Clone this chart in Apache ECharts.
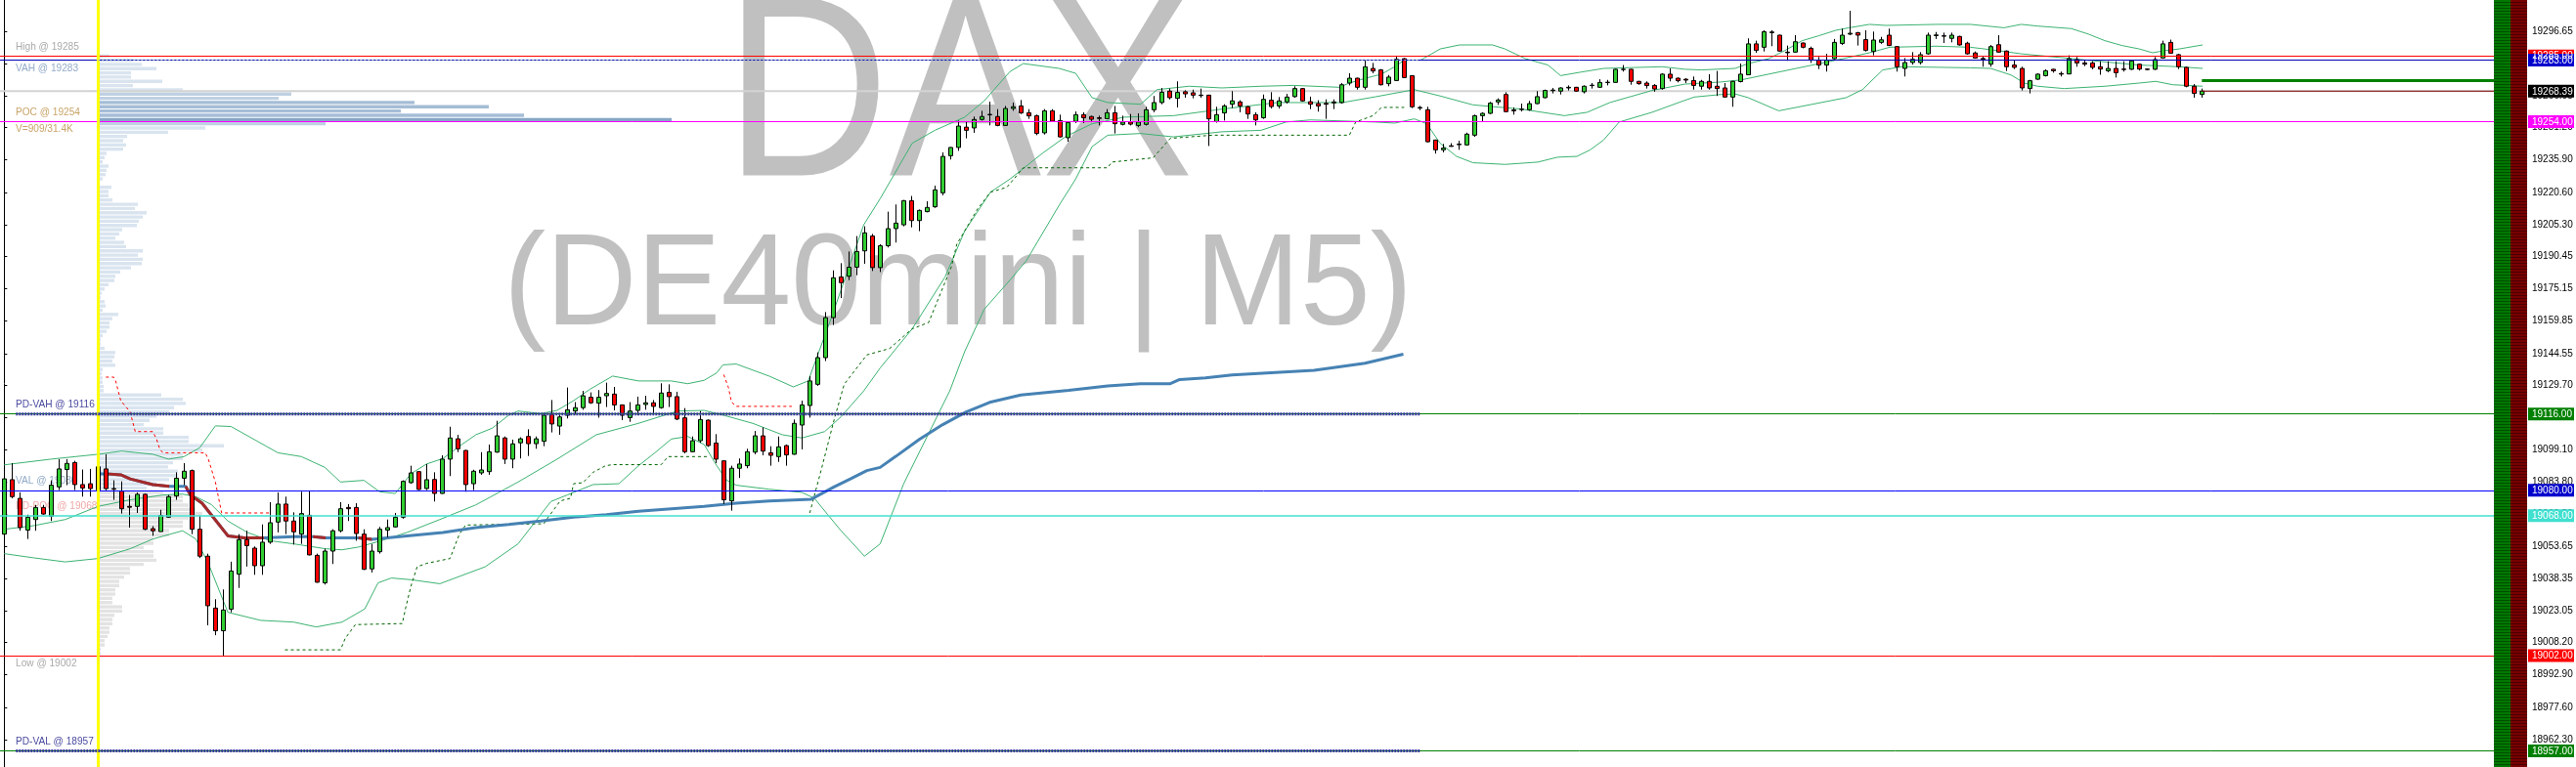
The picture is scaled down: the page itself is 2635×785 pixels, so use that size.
<!DOCTYPE html>
<html><head><meta charset="utf-8">
<script src="https://cdn.jsdelivr.net/npm/echarts@6/dist/echarts.min.js"></script>
<style>html,body{margin:0;padding:0;background:#fff;overflow:hidden}#c{width:2635px;height:785px}</style>
</head><body><div id="c"></div>
<script>
// ---------------- DATA ----------------
// candles: [open, high, low, close], one per M5 bar
const candles = [
[19059.3,19087.0,19057.8,19085.4],[19085.0,19092.8,19076.2,19077.0],[19076.2,19079.0,19060.9,19062.4],[19061.2,19068.5,19057.0,19067.3],
[19066.2,19073.1,19060.9,19071.9],[19071.9,19073.1,19068.5,19068.8],[19067.8,19084.7,19065.5,19082.4],[19081.6,19094.7,19080.1,19090.1],
[19089.8,19094.7,19082.4,19092.7],[19093.1,19093.9,19080.1,19082.7],[19082.7,19089.8,19077.0,19081.1],[19083.1,19090.1,19077.0,19080.8],
[19080.1,19097.3,19077.8,19091.1],[19090.1,19097.0,19080.0,19080.8],[19080.8,19084.7,19075.5,19080.5],[19079.6,19084.2,19069.0,19071.3],
[19072.4,19077.8,19062.4,19072.0],[19072.4,19079.0,19069.3,19078.1],[19078.1,19078.5,19061.2,19061.6],[19061.9,19063.1,19058.5,19060.9],
[19060.5,19070.8,19060.5,19068.1],[19067.3,19077.8,19067.0,19077.0],[19077.3,19088.5,19075.5,19085.7],[19085.7,19092.8,19082.4,19089.0],
[19089.3,19089.8,19059.3,19061.6],[19061.6,19068.0,19048.0,19048.9],[19048.9,19050.1,19016.3,19025.5],[19024.4,19028.6,19011.6,19013.7],
[19013.7,19033.2,19002.0,19023.5],[19023.9,19046.3,19022.4,19041.9],[19040.4,19059.3,19033.9,19056.7],[19056.7,19060.9,19044.0,19053.9],
[19052.7,19053.5,19040.1,19044.4],[19044.4,19063.9,19040.1,19055.5],[19055.5,19074.4,19054.7,19064.7],[19065.0,19079.0,19060.1,19073.5],
[19073.5,19077.0,19059.3,19065.5],[19065.5,19069.6,19054.4,19060.4],[19059.3,19079.3,19054.7,19069.0],[19068.2,19079.6,19049.3,19049.5],
[19049.3,19050.1,19036.4,19036.6],[19036.3,19052.4,19035.5,19051.3],[19051.3,19061.6,19045.2,19060.9],[19060.9,19074.4,19060.1,19071.3],
[19071.9,19073.5,19065.5,19071.3],[19071.9,19073.9,19056.2,19059.6],[19059.3,19061.6,19042.4,19042.7],[19042.9,19054.7,19041.2,19051.3],
[19051.0,19062.7,19050.1,19061.6],[19061.2,19066.2,19057.8,19062.4],[19062.7,19069.3,19062.4,19067.3],[19067.3,19084.7,19066.6,19084.2],
[19083.6,19091.6,19083.1,19088.2],[19088.8,19089.0,19080.2,19080.4],[19080.8,19092.4,19080.1,19085.0],[19085.1,19088.5,19074.7,19078.5],
[19078.5,19096.5,19078.3,19094.7],[19094.7,19110.0,19086.7,19104.7],[19104.3,19106.2,19098.0,19099.6],[19098.8,19099.0,19079.3,19082.7],
[19083.1,19089.7,19080.1,19089.0],[19088.2,19098.0,19087.3,19089.6],[19088.8,19101.6,19087.3,19098.2],[19098.0,19112.8,19097.7,19105.7],
[19104.7,19105.4,19092.4,19094.7],[19094.7,19103.9,19090.4,19101.9],[19102.4,19105.0,19095.0,19104.3],[19105.4,19108.8,19096.2,19102.0],
[19102.0,19105.4,19099.6,19104.3],[19103.1,19116.2,19100.8,19115.4],[19115.9,19122.6,19107.3,19111.3],[19110.3,19116.2,19106.2,19114.6],
[19115.4,19128.5,19113.9,19118.0],[19117.4,19121.6,19115.7,19119.0],[19119.0,19126.9,19118.0,19124.6],[19123.9,19126.2,19120.8,19121.3],
[19121.1,19127.3,19114.3,19123.9],[19124.6,19130.8,19119.3,19125.7],[19125.4,19128.8,19117.7,19120.3],[19120.3,19120.5,19113.1,19115.4],
[19114.3,19121.6,19112.3,19117.4],[19117.7,19124.2,19115.4,19120.3],[19120.5,19124.6,19118.0,19121.3],[19121.3,19122.6,19115.4,19119.6],
[19119.0,19130.5,19118.5,19125.9],[19126.2,19130.0,19119.3,19124.2],[19124.2,19126.5,19113.1,19113.6],[19114.2,19118.8,19097.4,19098.2],
[19098.2,19105.4,19098.0,19103.4],[19103.4,19117.4,19102.4,19113.4],[19113.1,19113.4,19100.5,19101.1],[19102.3,19106.5,19092.8,19094.7],
[19093.9,19094.0,19073.5,19075.5],[19075.0,19091.6,19070.4,19090.4],[19090.4,19095.0,19085.8,19092.4],[19091.6,19099.6,19090.4,19098.2],
[19098.0,19108.0,19097.0,19105.7],[19105.7,19109.7,19096.5,19098.5],[19097.7,19100.8,19091.6,19096.5],[19095.9,19105.4,19093.4,19100.5],
[19101.1,19101.6,19091.6,19096.7],[19097.0,19113.4,19096.8,19111.6],[19110.8,19122.3,19099.3,19120.3],[19120.0,19133.9,19114.3,19131.6],
[19130.0,19145.1,19129.3,19142.6],[19142.6,19164.1,19141.0,19161.5],[19161.5,19183.8,19158.0,19180.3],[19180.7,19187.2,19170.7,19178.0],
[19181.0,19192.7,19179.2,19185.3],[19185.3,19200.0,19181.5,19192.7],[19193.0,19204.6,19186.9,19201.5],[19200.0,19201.0,19183.5,19185.1],
[19185.1,19196.1,19183.0,19195.4],[19195.4,19211.5,19194.6,19203.5],[19203.5,19214.9,19196.9,19206.1],[19205.3,19217.0,19204.6,19216.7],
[19216.7,19218.9,19204.1,19207.3],[19207.3,19212.5,19202.3,19212.1],[19211.5,19216.4,19211.2,19213.5],[19213.8,19223.8,19213.3,19221.8],
[19220.4,19239.5,19219.2,19237.6],[19237.9,19242.0,19236.1,19241.8],[19241.8,19254.5,19240.2,19251.9],[19251.4,19253.8,19246.1,19249.9],
[19251.0,19256.4,19248.7,19255.0],[19255.0,19259.1,19254.5,19256.4],[19257.2,19263.4,19252.2,19257.4],[19256.4,19259.9,19251.8,19252.2],
[19252.2,19261.4,19252.0,19260.2],[19260.2,19263.0,19259.1,19261.0],[19261.4,19264.2,19257.6,19258.1],[19258.2,19259.9,19255.3,19256.7],
[19256.8,19257.3,19247.6,19248.4],[19248.7,19259.9,19247.9,19259.1],[19259.1,19259.9,19254.0,19254.2],[19254.5,19257.3,19246.5,19246.8],
[19246.4,19254.1,19244.5,19253.6],[19254.1,19258.8,19253.3,19257.3],[19257.3,19258.4,19253.3,19255.8],[19256.4,19256.8,19253.7,19255.1],
[19255.8,19256.8,19252.2,19255.5],[19255.3,19259.9,19255.1,19258.2],[19258.2,19261.4,19248.4,19253.0],[19252.7,19256.8,19252.2,19253.8],
[19253.8,19257.6,19252.2,19252.8],[19252.2,19257.9,19251.4,19253.8],[19252.7,19261.0,19252.2,19259.6],[19259.6,19266.1,19258.4,19263.0],
[19263.0,19269.9,19262.2,19267.9],[19268.4,19269.6,19264.5,19265.3],[19265.0,19273.0,19260.7,19267.8],[19268.1,19268.8,19265.3,19267.1],
[19267.6,19269.1,19265.0,19266.5],[19266.5,19269.6,19265.3,19266.3],[19266.5,19266.7,19242.5,19255.3],[19254.0,19261.0,19253.5,19257.3],
[19258.1,19262.2,19254.5,19261.4],[19262.2,19268.4,19260.4,19263.8],[19263.3,19264.1,19258.4,19261.4],[19261.0,19261.4,19255.3,19257.6],
[19257.3,19258.4,19252.2,19254.8],[19255.8,19266.8,19255.3,19264.5],[19264.1,19267.9,19260.2,19261.1],[19261.4,19265.6,19260.2,19263.8],
[19263.3,19267.1,19262.5,19265.6],[19265.8,19270.7,19265.3,19269.6],[19269.6,19269.9,19263.4,19263.8],[19263.4,19265.8,19259.9,19262.2],
[19262.5,19264.1,19258.7,19261.4],[19262.6,19264.5,19255.3,19262.2],[19262.8,19264.5,19259.9,19263.3],[19263.0,19272.2,19262.5,19271.4],
[19272.2,19276.8,19271.1,19274.5],[19274.5,19274.7,19269.1,19270.2],[19270.2,19283.0,19269.1,19279.9],[19279.1,19281.7,19276.8,19277.9],
[19278.4,19278.8,19271.1,19271.4],[19271.9,19276.0,19270.7,19275.0],[19273.4,19285.0,19273.2,19283.4],[19283.7,19284.0,19274.5,19274.8],
[19275.7,19275.9,19260.4,19261.0],[19260.7,19261.4,19259.4,19260.4],[19259.6,19261.0,19244.2,19244.5],[19245.3,19245.5,19238.9,19240.7],
[19240.7,19243.5,19239.5,19241.5],[19242.6,19243.8,19242.2,19242.3],[19243.1,19245.0,19240.7,19243.4],[19243.0,19248.8,19242.7,19248.1],
[19247.6,19257.3,19246.8,19256.8],[19256.8,19258.4,19254.2,19257.9],[19257.9,19263.3,19257.6,19262.7],[19263.3,19265.0,19261.9,19264.2],
[19266.8,19267.9,19258.4,19258.7],[19259.5,19260.7,19257.3,19259.1],[19259.7,19262.5,19258.8,19259.9],[19259.6,19263.8,19259.1,19262.5],
[19262.5,19268.4,19262.2,19265.8],[19265.3,19269.1,19265.0,19268.7],[19268.6,19269.9,19267.3,19268.9],[19268.4,19270.2,19266.8,19269.9],
[19269.9,19271.1,19268.7,19270.2],[19270.2,19270.4,19268.1,19268.4],[19268.1,19271.1,19267.3,19270.7],[19271.0,19272.2,19269.6,19271.2],
[19270.2,19274.0,19269.9,19272.5],[19272.4,19273.7,19271.1,19272.6],[19272.5,19278.9,19272.4,19278.7],[19278.6,19280.7,19277.6,19278.7],
[19278.7,19278.9,19271.4,19273.0],[19273.0,19273.2,19271.4,19271.9],[19272.2,19273.0,19269.6,19271.0],[19271.1,19271.7,19268.1,19269.4],
[19269.6,19276.8,19269.1,19276.4],[19276.4,19279.1,19273.0,19274.5],[19274.5,19274.8,19272.5,19273.3],[19274.0,19274.5,19272.2,19273.6],
[19273.4,19275.3,19269.1,19271.1],[19270.7,19273.7,19269.1,19273.0],[19273.0,19276.4,19269.1,19269.9],[19270.7,19277.9,19266.1,19269.6],
[19269.9,19272.2,19265.4,19265.6],[19265.6,19273.2,19261.0,19273.0],[19272.9,19281.4,19272.5,19276.4],[19276.1,19293.3,19276.0,19290.7],
[19290.7,19292.2,19286.5,19287.6],[19289.1,19297.1,19287.1,19296.4],[19296.0,19297.1,19289.6,19296.3],[19294.8,19295.0,19287.1,19287.3],
[19286.8,19289.9,19282.7,19286.5],[19286.8,19294.8,19286.6,19291.7],[19291.1,19291.3,19288.6,19289.1],[19288.6,19289.4,19281.7,19283.0],
[19283.0,19284.5,19278.8,19280.7],[19280.7,19286.0,19277.6,19283.0],[19283.7,19293.0,19283.4,19291.4],[19290.9,19297.9,19290.2,19294.8],
[19295.3,19306.3,19294.8,19295.7],[19296.0,19296.3,19289.9,19294.8],[19292.7,19297.1,19287.1,19287.6],[19287.1,19296.5,19285.3,19292.5],
[19291.4,19294.0,19290.7,19292.6],[19294.8,19297.9,19289.7,19289.9],[19289.4,19289.6,19277.6,19279.9],[19279.1,19284.0,19275.3,19281.9],
[19281.9,19286.8,19280.9,19283.4],[19281.9,19286.8,19281.0,19285.6],[19286.0,19296.0,19285.6,19294.8],[19294.6,19296.3,19293.0,19294.9],
[19294.5,19296.0,19291.1,19294.3],[19293.3,19296.0,19291.4,19294.8],[19294.2,19294.5,19289.9,19290.2],[19291.0,19291.7,19285.6,19286.0],
[19286.4,19287.1,19283.7,19284.0],[19283.8,19285.0,19279.9,19283.5],[19281.1,19290.2,19279.9,19289.4],[19290.3,19294.8,19286.5,19286.8],
[19287.3,19287.6,19277.9,19279.9],[19280.7,19283.0,19278.8,19279.6],[19279.1,19279.9,19268.7,19269.9],[19269.6,19273.7,19267.3,19273.3],
[19274.0,19276.8,19273.7,19276.4],[19275.7,19278.7,19275.3,19278.0],[19278.7,19278.9,19277.1,19278.0],[19276.7,19277.6,19275.3,19276.4],
[19276.5,19285.3,19276.3,19283.7],[19283.3,19284.5,19279.9,19281.7],[19281.7,19283.3,19280.2,19281.1],[19281.7,19282.5,19278.7,19279.6],
[19279.9,19282.5,19276.1,19278.8],[19278.0,19282.5,19277.3,19279.1],[19279.1,19282.5,19274.8,19277.1],[19278.8,19282.5,19277.6,19278.6],
[19278.7,19283.0,19278.4,19282.7],[19281.1,19281.4,19278.1,19278.8],[19278.8,19279.1,19278.2,19278.6],[19278.7,19284.5,19278.4,19283.3],
[19284.0,19292.2,19283.7,19290.7],[19291.4,19292.7,19286.0,19286.3],[19285.6,19286.0,19278.8,19279.9],[19279.6,19279.9,19270.2,19270.7],
[19270.7,19271.7,19265.3,19267.3],[19266.8,19269.6,19265.3,19268.4]
];

// Bollinger bands: [bar index, price]
const bbUpper = [[0,19092],[6,19094.7],[12,19097],[15,19098.5],[19,19097],[21,19094.7],[23,19095.9],[25,19100.1],[27,19110.4],[29,19110.1],[32,19103.9],[35,19097.7],[38,19095.9],[41,19090.8],[43,19083.9],[46,19084.7],[48,19079.3],[50,19078.5],[52,19087.8],[54,19092.4],[56.1,19095],[58.2,19100.8],[60.3,19106.2],[62.4,19109.3],[64.5,19115.4],[65.7,19117.4],[68.6,19116.2],[70.7,19117.7],[72.8,19122.3],[74.9,19127.7],[77.8,19133.9],[81.1,19131.6],[85.3,19131.6],[87.4,19130.3],[89.5,19131.9],[91.1,19135.4],[91.9,19139.2],[93.6,19139.6],[97.8,19133.9],[100.9,19128.8],[102.8,19131.6],[105.7,19160.8],[109.9,19205.3],[112,19217.6],[116.1,19243.8],[119,19249.9],[122.8,19256.1],[125.3,19263.8],[128.6,19277.6],[130.3,19281.4],[134.9,19279.1],[137,19276.8],[139.1,19265.3],[141.1,19263],[145.3,19262.2],[147.4,19269.1],[151.5,19270.7],[155.7,19269.9],[160.7,19270.7],[164.9,19271.1],[170.7,19270.2],[172,19272.2],[174.1,19274.5],[176.1,19276.4],[177.8,19279.9],[179,19283],[181.1,19283],[183.6,19288.3],[186.1,19290.2],[190.3,19290.2],[191.9,19288.3],[194.5,19283.7],[197.4,19280.7],[199,19275.7],[201.5,19277.3],[204.5,19279.1],[207,19279.4],[212,19279.9],[214.9,19278.7],[217,19278.4],[221.3,19279.1],[223,19281.4],[225.6,19283.7],[227.7,19287.6],[229.9,19292.2],[232,19294.5],[234.2,19297.1],[235.9,19298.3],[238.5,19299.9],[240.6,19299.4],[247.1,19299.9],[251.4,19299.9],[255.7,19298.3],[257.9,19299.9],[260,19299.1],[264.3,19297.9],[266.5,19295.3],[268.6,19292.2],[270.8,19289.9],[273,19288.3],[274.7,19286.5],[276.4,19287.6],[278.1,19288.3],[281.1,19290.2]];
const bbMiddle = [[0,19061.6],[3.6,19063.2],[7.8,19066.2],[12,19072.4],[16.1,19075.5],[20.3,19077.8],[22.8,19078.2],[24.5,19077],[26.5,19073.2],[28.6,19065.5],[31.1,19060.1],[34,19056.2],[37,19054.7],[41.1,19052.4],[43.2,19051.9],[45.3,19053.2],[48.2,19056.2],[51.5,19060.1],[55.7,19066.2],[60.3,19073.1],[65.7,19083.9],[70.7,19094.7],[75.7,19106.2],[81.1,19111.6],[86.1,19117.4],[89.5,19117.7],[92,19115.4],[95.7,19111.6],[99.5,19106.2],[102,19104.7],[104.9,19107.7],[107,19114.7],[109.9,19126.9],[112,19137.7],[116.1,19156.2],[120.3,19180.7],[122.8,19202.3],[126.1,19220.7],[128.6,19226.9],[132.8,19239.2],[135.7,19246.9],[139.1,19253],[143.2,19256.1],[149.5,19256.8],[155.7,19259.9],[162.8,19263],[171.1,19263],[175.3,19265.7],[180.3,19269.1],[183.6,19266.1],[187.8,19261.9],[194,19259.9],[199.5,19256.8],[202.4,19258.4],[205.3,19263],[210.7,19268.7],[214.9,19271.7],[219.5,19272.7],[222.1,19273.7],[225.6,19276.4],[231.2,19280.7],[235.1,19283.7],[238.5,19286.5],[241.1,19289.1],[247.1,19289.6],[251.4,19289.1],[254.8,19287.6],[257.9,19286],[262.2,19284.5],[268.6,19282.2],[273,19280.7],[278.1,19279.9],[281.1,19279.1]];
const bbLower = [[0,19050.1],[3.6,19048.2],[7.8,19046.2],[12,19047.8],[16.1,19052.4],[19,19057],[22.8,19060.9],[24.5,19057],[26.1,19045.5],[28.6,19022.4],[32.8,19018.6],[37,19017.8],[39.9,19015.5],[43.2,19017.8],[46.1,19024],[47.8,19036.3],[49.5,19038.6],[52,19037.8],[55.7,19035.9],[61.5,19043.9],[65.7,19054.7],[69.9,19074.7],[72,19077.8],[75.3,19082.7],[78.6,19083.1],[81.1,19091.6],[83.2,19097.7],[85.3,19104.2],[87.4,19105.4],[89.5,19101.6],[91.1,19091.6],[92.4,19084.7],[93.6,19082.4],[97.8,19080.5],[102,19079],[103.6,19076.2],[105.3,19068.5],[107,19060.9],[110,19048.9],[112,19054.7],[115,19083],[120.9,19126.9],[122.8,19145.4],[125.3,19165.4],[128.6,19179.2],[130.7,19188.4],[134.9,19214.6],[137,19226.9],[139.1,19242.2],[141.1,19247.6],[145.3,19248.4],[149.5,19246.8],[155.7,19249.2],[160.7,19249.9],[163.9,19253.8],[167,19254.8],[175.3,19253.8],[177.8,19253.3],[180.3,19255.3],[181.9,19253],[183.6,19243.8],[185.7,19237.6],[187.8,19234.6],[191.9,19233.8],[196.1,19234.9],[198.6,19237.2],[201.1,19237.6],[202.8,19240.7],[204.5,19245.3],[206.5,19253.8],[210.7,19258.4],[214.1,19263],[216.1,19265.6],[219.5,19266.8],[221.3,19267.1],[223,19265.3],[226.9,19259.1],[231.2,19262.2],[235.5,19265.3],[237.6,19269.1],[240.2,19278.4],[242.7,19279.9],[251.4,19279.4],[254,19279.1],[256.6,19276],[258.3,19272.2],[260,19270.7],[263.4,19269.6],[268.6,19270.7],[273,19272.2],[275.1,19273],[277.3,19271.4],[281.1,19270.7]];

// session VWAP (rising parts) and its falling parts
const vwap = [[12,19087.8],[13,19087.8],[14.9,19087.3],[16.1,19085.4],[19,19082.7],[21.1,19081.9],[23.2,19081.9],[23.8,19077.8],[25.3,19073.9],[28.6,19058.5],[30.7,19057.5],[33.2,19057.5],[37,19058.1],[39.5,19058.1],[41.1,19057.5],[45.3,19057.5],[47,19056.9],[51.5,19058.5],[56.1,19060.1],[60.3,19062.4],[64.5,19063.9],[68.6,19065.5],[72.8,19067.3],[77,19068.5],[81.1,19070.1],[85.3,19071.3],[89.5,19072.4],[93.6,19073.9],[97.8,19075.0],[103.2,19075.8],[106.1,19081.6],[108.2,19085.4],[110.3,19089.3],[112,19090.8],[114,19096],[117,19104],[120,19111],[123,19117],[126,19121.5],[130,19125],[136.1,19127.2],[141.1,19129.2],[145.3,19130.3],[149.1,19130.3],[150.3,19132.3],[153.6,19133.1],[157,19134.4],[167.5,19136.6],[174,19140],[178.9,19144.2]];
const vwapFalling = [[13,19087.8],[14.9,19087.3],[16.1,19085.4],[19,19082.7],[21.1,19081.9],null,[23.2,19081.9],[23.8,19077.8],[25.3,19073.9],[28.6,19058.5],[30.7,19057.5],[33.2,19057.5],null,[39.5,19058.1],[41.1,19057.5],null,[45.3,19057.5],[47,19056.9]];

// trailing stop lines
const stopRed = [[13,19133.4],[14,19133.4],[14.25,19131.6],[14.9,19122.3],[16.1,19117],[16.75,19107.7],[19,19107.7],[19.5,19103.9],[19.9,19099.3],[20.3,19097.7],[25.7,19097.7],[26.1,19094.7],[27,19083.9],[27.8,19069.3],[34,19069.3],null,[92,19134.6],[92.6,19128.5],[93,19121.6],[93.6,19119.6],[100.7,19119.6]];
const stopGreen = [[35.9,19004.7],[43,19004.7],[43.6,19010.1],[44.9,19016.6],[50.9,19017.1],[51.3,19024],[52,19034.7],[52.8,19043.9],[54,19045.5],[57,19047.8],[58.2,19059.3],[59,19063.6],[69,19064.2],[69.5,19067],[71.1,19075],[72.4,19076.2],[72.8,19083.1],[74,19083.6],[75.3,19088.5],[76.9,19091.6],[77.8,19092.1],[84,19092.1],[84.9,19095.9],[89.9,19095.9],null,[103,19069.3],[104.5,19090.1],[106.1,19113.1],[107.4,19130],[110.3,19143.9],[113.2,19146.9],[116.1,19156.2],[118.2,19159.2],[121.1,19185.4],[121.8,19196.1],[124.5,19213],[126.1,19220.7],[128.2,19223],[130.3,19232.2],[141.1,19232.2],[141.6,19234.9],[146.9,19236.9],[149.1,19246.1],[154.5,19247.6],[172,19247.6],[172.8,19253.8],[175,19256.8],[176.1,19260.7],[179,19260.7]];

// session volume profile: 2-point bins starting at profileLow (relative volume)
const profileLow = 19002, profileStep = 2;
const profileVol = [3,3,7,7,10,12,12,15,15,17,25,25,15,15,18,18,22,22,27,33,33,47,60,57,57,47,57,57,73,73,
87,87,93,107,100,93,87,87,67,50,60,73,82,82,72,77,87,87,107,129,93,93,67,67,47,53,60,73,78,90,
87,65,6,6,5,5,4,5,18,15,17,18,7,3,3,5,9,12,12,15,21,5,8,7,3,4,7,11,17,18,
23,34,45,46,41,46,29,27,18,22,25,40,42,46,50,38,41,15,11,11,14,2,5,8,9,11,5,7,9,26,
29,26,30,72,110,233,587,436,310,400,324,185,198,87,36,66,34,34,60,45,36,12];

// price levels
const levelNames  = ['High','VAH','Last','POC','PD-VAH','VAL','PD-POC','Low','PD-VAL'];
const levelPrices = [19285, 19283, 19268.39, 19254, 19116, 19080, 19068, 19002, 18957];
const askLevel = 19273.4;
const volumeText = 'V=909/31.4K';
const sessionStartIndex = 12, prevDayStartIndex = 1.5, profileEndIndex = 181;

// price axis tick labels
const yTicks = [19296.65,19281.35,19266.05,19251.20,19235.90,19220.60,19205.30,19190.45,19175.15,19159.85,19144.55,19129.70,19114.40,19099.10,19083.80,19068.50,19053.65,19038.35,19023.05,19008.20,18992.90,18977.60,18962.30];

// ---------------- CHART ----------------
const xMin = -0.54, xMax = 322.59, yMin = 18949.4, yMax = 19311.4;
const FONT = '"Liberation Sans", Arial, sans-serif';
const lvl = n => levelPrices[levelNames.indexOf(n)];

const lineColor = {'High':'#ff0000','VAH':'#0000b4','POC':'#ff00ff','PD-VAH':'#008000','VAL':'#0000ff','PD-POC':'#40e0d0','Low':'#ff0000','PD-VAL':'#008000'};
const tagColor = {'High':'#ff0000','VAH':'#0000cd','Last':'#000000','POC':'#ff00ff','PD-VAH':'#008000','VAL':'#0000cd','PD-POC':'#40e0d0','Low':'#ff0000','PD-VAL':'#008000'};
const labelStyle = {'High':['#a9a9a9',-1],'VAH':['#92abc9',1],'POC':['#c9a468',-1],'PD-VAH':['#4a4aa0',-1],'VAL':['#92abc9',-1],'PD-POC':['#f0a8a8',-1],'Low':['#a9a9a9',1],'PD-VAL':['#4a4aa0',-1]};

const chart = echarts.init(document.getElementById('c'), null, {renderer:'canvas', width:2635, height:785});
const maxVol = Math.max(...profileVol);
const profileData = profileVol.map((v,k)=>[profileLow+k*profileStep, profileLow+(k+1)*profileStep, v]);
const candleData = candles.map((c,i)=>[i, c[0], c[3], c[2], c[1]]);
const lastIdx = candles.length - 1;

function lineSeries(data, color, width, type, z, extra) {
  return Object.assign({type:'line', data, symbol:'none', silent:true, connectNulls:false, z,
    lineStyle:{color, width, type}, xAxisIndex:0, yAxisIndex:0, animation:false}, extra||{});
}

const markData = Object.keys(lineColor).map(n=>({yAxis:lvl(n), lineStyle:{color:lineColor[n], width: n==='PD-POC'?1.5:1, type:'solid'}}));
markData.push({xAxis:sessionStartIndex, lineStyle:{color:'#ffff00', width:3, type:'solid'}});

const option = {
  animation:false,
  backgroundColor:'#ffffff',
  grid:[{left:0,right:50,top:0,bottom:0,containLabel:false},{left:100,top:0,bottom:0,width:587}],
  xAxis:[{type:'value',min:xMin,max:xMax,show:false,gridIndex:0},{type:'value',min:0,max:maxVol,show:false,gridIndex:1}],
  yAxis:[{type:'value',position:'right',min:yMin,max:yMax,gridIndex:0,
      splitLine:{show:false},
      axisLine:{show:true,lineStyle:{color:'#000',width:1}},
      axisTick:{show:true,length:3,customValues:yTicks,lineStyle:{color:'#000'}},
      axisLabel:{show:true,customValues:yTicks,margin:5,color:'#000',fontSize:10,fontFamily:FONT,formatter:v=>Number(v).toFixed(2)}},
    {type:'value',min:yMin,max:yMax,show:false,gridIndex:1}],
  series:[
    {type:'custom', xAxisIndex:1, yAxisIndex:1, z:1, silent:true, data:profileData,
     encode:{x:2,y:[0,1]},
     renderItem:function(params, api){
       const lo=api.value(0), hi=api.value(1), v=api.value(2);
       const p0=api.coord([0,hi]), p1=api.coord([v,lo]);
       const mid=(lo+hi)/2;
       let fill;
       if (mid < lvl('VAL')) fill='#e3e3e3';
       else if (v>=maxVol) fill='#86a6c6';
       else if (v>=300) fill='#a5bdd6';
       else if (v>=150) fill='#bfd0e2';
       else fill='#d9e4ef';
       return {type:'rect', shape:{x:p0[0], y:p0[1]+0.5, width:Math.max(p1[0]-p0[0],0), height:Math.max(p1[1]-p0[1]-1,1)}, style:{fill}};
     }},
    lineSeries([[xMin,lvl('Last')],[xMax,lvl('Last')]], '#d3d3d3', 2, 'solid', 1),
    lineSeries(bbUpper,'#3cb371',1,'solid',2),
    lineSeries(bbMiddle,'#3cb371',1,'solid',2),
    lineSeries(bbLower,'#3cb371',1,'solid',2),
    lineSeries(stopRed,'#ff0000',1,[3,3],2),
    lineSeries(stopGreen,'#006400',1,[3,3],2),
    lineSeries(vwap,'#4682b4',3,'solid',2),
    lineSeries(vwapFalling,'#a52a2a',3,'solid',2),
    {type:'candlestick', data:candleData, encode:{x:0,y:[1,2,3,4]}, xAxisIndex:0, yAxisIndex:0, z:3,
     barWidth:5, silent:true, animation:false,
     itemStyle:{color:'#32cd32', color0:'#ff0000', borderColor:'#000000', borderColor0:'#000000', borderColorDoji:'#000000', borderWidth:1},
     markLine:{silent:true, z:5, symbol:['none','none'], animation:false, label:{show:false}, data:markData}},
    lineSeries([[sessionStartIndex,lvl('VAH')],[profileEndIndex,lvl('VAH')]], '#9db4cd', 1, [2,2], 6),
    lineSeries([[prevDayStartIndex,lvl('PD-VAH')],[profileEndIndex,lvl('PD-VAH')]], '#3a3aa0', 3, [2,1], 6),
    lineSeries([[prevDayStartIndex,lvl('PD-VAL')],[profileEndIndex,lvl('PD-VAL')]], '#3a3aa0', 3, [2,1], 6),
    lineSeries([[lastIdx,askLevel],[xMax,askLevel]], '#008000', 3, 'solid', 6),
    lineSeries([[lastIdx,lvl('Last')],[xMax,lvl('Last')]], '#800000', 1, 'solid', 6)
  ]
};
chart.setOption(option);

// ---------------- decorations that follow the price scale ----------------
const W = chart.getWidth(), H = chart.getHeight();
const axisX = W - 50;
const py = v => chart.convertToPixel({yAxisIndex:0}, v);
const els = [];
els.push({type:'text', x:981, y:106.4, scaleX:0.88, z:0, silent:true,
  style:{text:'DAX', font:'265px '+FONT, fill:'#c0c0c0', align:'center', verticalAlign:'middle'}});
els.push({type:'text', x:980, y:295.7, scaleX:0.97, z:0, silent:true,
  style:{text:'(DE40mini | M5)', font:'133px '+FONT, fill:'#c0c0c0', align:'center', verticalAlign:'middle'}});
Object.keys(labelStyle).forEach(n=>{
  const [col, side] = labelStyle[n];
  const y = py(lvl(n)) + (side < 0 ? -9.5 : 8);
  els.push({type:'text', x:16, y, scaleX:0.92, z:2, silent:true, style:{text: n+' @ '+lvl(n), font:'11px '+FONT, fill:col, verticalAlign:'middle'}});
});
els.push({type:'text', x:16, y:py(lvl('POC'))+7.5, scaleX:0.92, z:2, silent:true, style:{text:volumeText, font:'11px '+FONT, fill:'#c9a468', verticalAlign:'middle'}});
// right-hand indicator columns (striped)
els.push({type:'rect', z:10, silent:true, shape:{x:axisX-34, y:0, width:17, height:H}, style:{fill:'#007800'}});
els.push({type:'rect', z:10, silent:true, shape:{x:axisX-17, y:0, width:17, height:H}, style:{fill:'#780000'}});
for (let y = 2; y < H; y += 3) {
  els.push({type:'rect', z:10.5, silent:true, shape:{x:axisX-34, y, width:17, height:1}, style:{fill:'#004e00'}});
  els.push({type:'rect', z:10.5, silent:true, shape:{x:axisX-17, y, width:17, height:1}, style:{fill:'#4a0000'}});
}
// price tags
levelNames.forEach(n=>{
  const v = lvl(n), y = py(v);
  els.push({type:'rect', z:11, silent:true, shape:{x:axisX+1, y:y-6.5, width:47, height:13}, style:{fill:tagColor[n]}});
  els.push({type:'text', z:12, silent:true, x:axisX+5, y:y+0.5, style:{text:v.toFixed(2), font:'10px '+FONT, fill:'#ffffff', verticalAlign:'middle'}});
});
chart.setOption({graphic:{elements:els}});
</script>
</body></html>
